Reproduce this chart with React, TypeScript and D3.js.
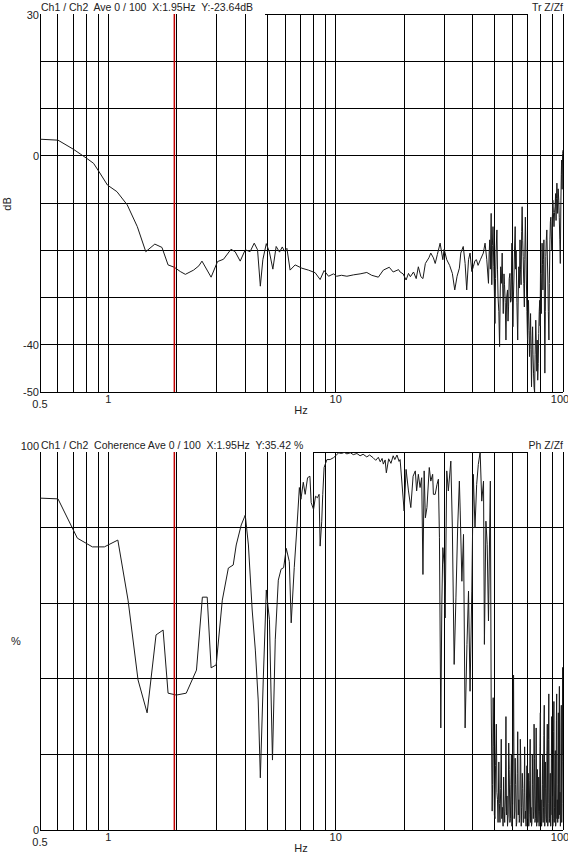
import React from "react";
import * as d3 from "d3";

// transfer function Ch1/Ch2, [Hz, dB]
const tfLow: [number, number][] = [
  [0.5, 3.5], [0.6, 3.3], [0.7, 1.4], [0.8, -0.5], [0.86, -1.6], [0.91, -3.4], [0.99, -6.2],
  [1.09, -7.6], [1.21, -10.4], [1.34, -15], [1.46, -20.3], [1.6, -18.7], [1.72, -19.4],
  [1.83, -23.1], [1.95, -23.6], [2.07, -24.5], [2.18, -25.1], [2.37, -24.2], [2.5, -23.3],
  [2.58, -22.3], [2.83, -25.7], [3.02, -22.4], [3.21, -21.9], [3.46, -19.8], [3.61, -20.3],
  [3.8, -22.3], [4.0, -19.9], [4.2, -20.3], [4.38, -18.5], [4.53, -19.9], [4.66, -27.6],
  [4.78, -22.0], [4.95, -18.6], [5.11, -20.4], [5.29, -24], [5.47, -19.2], [5.66, -20.4],
  [5.82, -19.3], [5.95, -20.2], [6.1, -19.6], [6.3, -24.2], [6.63, -23.1], [7.1, -23.8],
  [7.58, -24.2], [8.12, -24.75], [8.54, -26.2], [8.89, -24.3], [9.3, -25.5], [9.78, -25.0],
];
const tfMid: [number, number][] = [
  [10.1, -25.5], [10.6, -25.3], [11.2, -25.5], [12.0, -25.2], [12.8, -25.0], [13.7, -24.7],
  [14.4, -25.3], [15.4, -25.7], [16.2, -24.2], [17.2, -23.6], [17.9, -24.6], [18.9, -24.1],
  [19.2, -24.6], [19.8, -25.0], [20.4, -26.3], [20.9, -24.9], [21.3, -25.6], [22.0, -24.6],
  [22.6, -26.0], [23.1, -23.5], [23.7, -25.6], [24.2, -26.0], [24.8, -22.8], [25.7, -21.6],
  [26.2, -20.6], [26.9, -21.6], [27.4, -22.8], [28.0, -20.9], [28.8, -18.5], [29.6, -22],
  [30, -19.8], [30.8, -22], [31.7, -23.2], [32.6, -24.9], [33.4, -28.4], [34.2, -25.5],
  [35.0, -23.8], [35.5, -20.6], [36.4, -19.2], [37.1, -22.8], [37.7, -28.4], [38.4, -22],
  [39.0, -20.6], [39.7, -24.5], [40.3, -23.5], [41.0, -22.2], [41.6, -22], [42.3, -23.2],
  [43.3, -22], [44.6, -20.6], [45.4, -18.5], [46.2, -22],
];
const tfHigh: [number, number][] = [
  [47.0, -27], [47.3, -21], [47.6, -17.8], [47.9, -24], [48.3, -12.2], [48.6, -27.3], [48.9, -19],
  [49.2, -15], [49.6, -23.5], [49.9, -29], [50.2, -35.5], [50.5, -26], [50.8, -20], [51.2, -15.7],
  [51.5, -24], [51.8, -30], [52.2, -33], [52.6, -40.4], [52.9, -30], [53.2, -23.5], [53.6, -27],
  [54.0, -20.6], [54.3, -28], [54.6, -33.4], [55.0, -25], [55.3, -27.3], [55.7, -31], [56.1, -39],
  [56.5, -30], [57.0, -28.4], [57.3, -35], [57.6, -32], [58.0, -26], [58.4, -24.9], [58.8, -31],
  [59.1, -30.6], [59.6, -18.5], [59.9, -27], [60.2, -36.2], [60.5, -30], [60.8, -26.3], [61.2, -20],
  [61.6, -15], [61.9, -24], [62.2, -20], [62.7, -31], [63.2, -39], [63.5, -30], [63.9, -23.5],
  [64.3, -28], [64.7, -17.8], [65.0, -24], [65.4, -27.3], [65.8, -16], [66.1, -10.8], [66.5, -18],
  [66.8, -21.3], [67.2, -27], [67.6, -32], [67.9, -22], [68.3, -13], [68.7, -20], [69.0, -26.3],
  [69.4, -33], [69.8, -39], [70.1, -35], [70.5, -30.6], [70.9, -37], [71.2, -42.5], [71.6, -38],
  [72.0, -33.4], [72.3, -41], [72.7, -48.9], [73.1, -40], [73.5, -36.2], [73.8, -42], [74.2, -46],
  [74.6, -49], [75.0, -50], [75.4, -42], [75.9, -34.8], [76.3, -40], [76.7, -45.6], [77.0, -39],
  [77.4, -47.5], [77.8, -44], [78.2, -37.6], [78.6, -33], [79.0, -30.6], [79.3, -36], [79.6, -24.9],
  [80.0, -29], [80.3, -33.4], [80.6, -25], [80.9, -18.5], [81.3, -23], [81.6, -28.4], [82.0, -22],
  [82.4, -17.8], [82.8, -30], [83.2, -46], [83.6, -33], [84.0, -21.3], [84.4, -18], [84.9, -15.7],
  [85.3, -21], [85.8, -26.3], [86.2, -33], [86.7, -39], [87.1, -27], [87.6, -17.8], [88.0, -14],
  [88.4, -13], [88.8, -17], [89.3, -20], [89.7, -14], [90.2, -9.4], [90.7, -12], [91.3, -15],
  [91.8, -12], [92.3, -10.8], [92.8, -8], [93.2, -13.7], [93.6, -9], [94.0, -5.8], [94.4, -9],
  [94.7, -12.2], [95.2, -7], [95.8, -9.4], [96.3, -13], [96.8, -17.8], [97.3, -22.8], [97.9, -9.4],
  [98.3, -4], [98.6, -0.9], [99.1, -7.1], [99.6, 0.5], [100, 1.2],
];

// coherence, [Hz, %]
const cohLow: [number, number][] = [
  [0.5, 87.8], [0.6, 87.6], [0.73, 77.2], [0.85, 74.9], [0.96, 74.9], [1.1, 76.7], [1.22, 60.8],
  [1.35, 39.7], [1.48, 31], [1.62, 51.6], [1.74, 52.9], [1.83, 36.2], [1.99, 35.7], [2.2, 36.2],
  [2.44, 42.3], [2.59, 61.6], [2.72, 61.6], [2.83, 42.9], [2.98, 43.7], [3.17, 60.8], [3.37, 69.3],
  [3.54, 70.1], [3.65, 75.4], [3.84, 80.7], [4.0, 83.3], [4.13, 75.4], [4.29, 58.2], [4.43, 47.6],
  [4.56, 34.4], [4.66, 13.8], [4.8, 39.7], [4.95, 63.5], [5.11, 55.6], [5.27, 18.5], [5.42, 50.3],
  [5.59, 66.1], [5.75, 69], [5.9, 69.4], [6.06, 74.5], [6.25, 71], [6.37, 54.8], [6.57, 69.4],
  [6.75, 80], [6.92, 90.6], [7.03, 87.5], [7.2, 92], [7.34, 88.8], [7.52, 93.2], [7.7, 93.6],
  [7.8, 86.6], [7.99, 84.8], [8.15, 88.3], [8.31, 87.9], [8.45, 88.8], [8.54, 75.1], [8.68, 81.7],
  [8.77, 88.8], [8.89, 95.9], [9.15, 98],
];
const cohMid: [number, number][] = [
  [9.45, 98], [9.78, 98.5], [10.0, 99], [10.3, 99.8], [10.6, 99.6], [10.9, 99.9], [11.2, 99.5],
  [11.6, 99.8], [11.95, 99.3], [12.4, 99.6], [12.8, 99.0], [13.2, 99.4], [13.7, 98.7], [14.1, 99.2],
  [14.6, 98.5], [15.0, 97.8], [15.4, 98.6], [15.7, 97.4], [16.0, 98.3], [16.2, 96.8], [16.5, 97.9],
  [16.7, 94.5], [17.1, 98.2], [17.5, 97], [17.9, 99], [18.2, 98], [18.6, 99.2], [19.0, 97.5],
  [19.2, 98], [20.0, 84.4], [20.4, 95.4], [20.9, 89.7], [21.4, 85.3], [21.9, 93.6], [22.4, 95],
  [22.7, 89.7], [23.1, 94.1], [23.5, 90.6], [23.9, 93.2], [24.2, 67.6], [24.5, 95], [24.8, 82.6],
  [25.2, 85.3], [25.8, 95.9], [26.2, 92.3], [26.7, 94.1], [26.9, 88.8], [27.4, 88.8], [27.9, 91.4],
  [28.3, 92.8], [28.6, 77.3], [29.0, 27], [29.3, 59.7], [29.6, 74.7], [30.0, 70.3], [30.3, 56.1],
  [30.8, 95], [31.3, 89.7], [32.1, 97.6], [32.6, 80], [33.2, 43.8], [33.8, 61.4], [34.4, 80],
  [35.0, 92.3], [35.3, 84.4], [35.9, 65.8], [36.5, 78.2], [37.1, 27], [37.8, 49.1], [38.4, 63.2],
  [39.0, 36.7], [39.7, 63.2], [40.3, 94.1], [41.0, 80], [41.7, 91.4], [42.4, 96.7], [43.2, 100],
  [43.9, 87], [44.7, 92.3], [45.1, 49.1], [45.8, 81.7], [46.4, 75.6], [47.0, 55.3], [47.9, 92.3],
  [48.3, 34.9],
];
const cohHigh: [number, number][] = [
  [48.8, 5], [49.0, 12], [49.3, 35], [49.6, 22], [49.9, 4], [50.2, 3], [50.5, 17], [50.9, 28],
  [51.2, 10], [51.5, 8], [51.8, 2], [52.2, 18], [52.5, 7], [52.8, 2], [53.2, 11], [53.5, 24],
  [53.8, 3], [54.1, 6], [54.5, 1], [54.8, 14], [55.1, 5], [55.4, 2], [55.8, 9], [56.1, 30],
  [56.4, 4], [56.7, 9], [57.0, 1], [57.4, 4], [57.7, 23], [58.0, 16], [58.4, 2], [58.7, 3],
  [59.0, 12], [59.3, 20], [59.6, 1], [60.0, 7], [60.3, 26], [60.6, 41], [61.0, 3], [61.3, 5],
  [61.6, 19], [61.9, 12], [62.3, 1], [62.6, 2], [62.9, 15], [63.2, 26], [63.6, 4], [63.9, 8],
  [64.2, 2], [64.5, 3], [64.9, 24], [65.2, 18], [65.5, 1], [65.8, 6], [66.2, 15], [66.5, 11],
  [66.8, 2], [67.1, 2], [67.5, 10], [67.8, 22], [68.1, 3], [68.4, 5], [68.8, 1], [69.1, 9],
  [69.4, 17], [69.7, 3], [70.1, 6], [70.4, 15], [70.7, 1], [71.0, 4], [71.4, 13], [71.7, 24],
  [72.0, 2], [72.3, 6], [72.7, 1], [73.0, 2], [73.3, 20], [73.6, 12], [74.0, 3], [74.3, 5],
  [74.6, 28], [74.9, 19], [75.3, 2], [75.6, 3], [75.9, 9], [76.2, 27], [76.6, 1], [76.9, 7],
  [77.2, 16], [77.5, 2], [77.9, 5], [78.2, 14], [78.5, 1], [78.8, 5], [79.2, 22], [79.5, 31],
  [79.8, 2], [80.1, 8], [80.5, 1], [80.8, 3], [81.1, 12], [81.4, 20], [81.8, 2], [82.1, 6],
  [82.4, 25], [82.7, 33], [83.1, 1], [83.4, 4], [83.7, 18], [84.0, 11], [84.4, 3], [84.7, 2],
  [85.0, 21], [85.3, 28], [85.7, 1], [86.0, 7], [86.3, 24], [86.6, 36], [87.0, 2], [87.3, 3],
  [87.6, 10], [87.9, 15], [88.3, 1], [88.6, 5], [88.9, 19], [89.2, 30], [89.6, 4], [89.9, 9],
  [90.2, 1], [90.5, 3], [90.9, 26], [91.2, 34], [91.5, 2], [91.8, 6], [92.2, 14], [92.5, 21],
  [92.8, 1], [93.1, 2], [93.5, 29], [93.8, 36], [94.1, 3], [94.4, 8], [94.8, 2], [95.1, 12],
  [95.4, 31], [95.7, 3], [96.1, 22], [96.4, 38], [96.7, 4], [97.0, 10], [97.4, 1], [97.7, 4],
  [98.0, 27], [98.3, 33], [98.7, 2], [99.0, 7], [99.3, 18], [99.6, 43], [100, 20],
];

const tfTicks = [30, 20, 10, 0, -10, -20, -30, -40, -50];
const tfTickLabels = ["30", "0", "-40", "-50"];
const cohTicks = [100, 80, 60, 40, 20, 0];
const cohTickLabels = ["100", "0"];
const freqLabels = ["0.5", "1", "10", "100"];
const cursorHz = 1.95;

const W = 568;
const H = 854;
const X0 = 40;
const X1 = 563;
const FONT = "'Liberation Sans', Arial, sans-serif";

const x = d3.scaleLog().domain([0.5, 100]).range([X0, X1]);
const gridHz = x.ticks();

type PanelProps = {
  top: number;
  bottom: number;
  domain: [number, number];
  ticks: number[];
  labels: string[];
  labelDy: number[];
  data: [number, number][];
  header: string;
  tag: string;
  borderFrom: number;
  unit: string;
  unitRotate: boolean;
  id: string;
};

function Panel(p: PanelProps) {
  const y = d3.scaleLinear().domain(p.domain).range([p.bottom, p.top]);
  const line = d3
    .line<[number, number]>()
    .x((d) => x(d[0]))
    .y((d) => y(d[1]));
  const midY = (p.top + p.bottom) / 2;
  return (
    <g>
      <defs>
        <clipPath id={p.id}>
          <rect x={X0} y={p.top} width={X1 - X0} height={p.bottom - p.top} />
        </clipPath>
      </defs>
      {/* horizontal grid, top border broken by the header texts */}
      {p.ticks.map((t, i) =>
        i === 0 ? (
          <line key={t} x1={p.borderFrom} x2={528} y1={y(t)} y2={y(t)} stroke="#000" shapeRendering="crispEdges" />
        ) : (
          <line key={t} x1={X0} x2={X1} y1={y(t)} y2={y(t)} stroke="#000" shapeRendering="crispEdges" />
        )
      )}
      {/* vertical grid */}
      {gridHz.map((f) => (
        <line key={f} x1={x(f)} x2={x(f)} y1={p.top} y2={p.bottom} stroke="#000" shapeRendering="crispEdges" />
      ))}
      <path d={line(p.data) ?? ""} fill="none" stroke="#1a1a1a" strokeWidth={1} clipPath={`url(#${p.id})`} />
      <line x1={x(cursorHz)} x2={x(cursorHz)} y1={p.top} y2={p.bottom} stroke="#c00000" strokeWidth={1.5} />
      {/* header */}
      <text x={41} y={p.top - 3} fontSize={10.5} fill="#222" style={{ whiteSpace: "pre" }}>
        {p.header}
      </text>
      <text x={X1} y={p.top - 3} fontSize={10.5} fill="#222" textAnchor="end">
        {p.tag}
      </text>
      {/* y labels */}
      {p.labels.map((l, i) => (
        <text key={l} x={39} y={y(+l) + 4 + p.labelDy[i]} fontSize={11} fill="#222" textAnchor="end">
          {l}
        </text>
      ))}
      {p.unitRotate ? (
        <text x={0} y={0} fontSize={11} fill="#222" textAnchor="middle" transform={`translate(11,${midY + 1}) rotate(-90)`}>
          {p.unit}
        </text>
      ) : (
        <text x={16} y={midY + 4} fontSize={11} fill="#222" textAnchor="middle">
          {p.unit}
        </text>
      )}
      {/* x labels */}
      {freqLabels.map((l) => (
        <text
          key={l}
          x={l === "100" ? 560 : x(+l)}
          y={p.bottom + (l === "0.5" ? 16 : 11)}
          fontSize={11}
          fill="#222"
          textAnchor="middle"
        >
          {l}
        </text>
      ))}
      <text x={301} y={p.bottom + 22} fontSize={11} fill="#222" textAnchor="middle">
        Hz
      </text>
    </g>
  );
}

export default function App() {
  return (
    <svg
      width={W}
      height={H}
      style={{ position: "absolute", left: 0, top: 0, background: "#fff", fontFamily: FONT }}
    >
      <rect width={W} height={H} fill="#fff" />
      <Panel
        id="clipTf"
        top={14}
        bottom={392}
        domain={[-50, 30]}
        ticks={tfTicks}
        labels={tfTickLabels}
        labelDy={[1, 0, 0, 0]}
        data={[...tfLow, ...tfMid, ...tfHigh]}
        header={"Ch1 / Ch2  Ave 0 / 100  X:1.95Hz  Y:-23.64dB"}
        tag="Tr Z/Zf"
        borderFrom={265}
        unit="dB"
        unitRotate={true}
      />
      <Panel
        id="clipCoh"
        top={452}
        bottom={830}
        domain={[0, 100]}
        ticks={cohTicks}
        labels={cohTickLabels}
        labelDy={[-6, 0]}
        data={[...cohLow, ...cohMid, ...cohHigh]}
        header={"Ch1 / Ch2  Coherence Ave 0 / 100  X:1.95Hz  Y:35.42 %"}
        tag="Ph Z/Zf"
        borderFrom={313}
        unit="%"
        unitRotate={false}
      />
    </svg>
  );
}
